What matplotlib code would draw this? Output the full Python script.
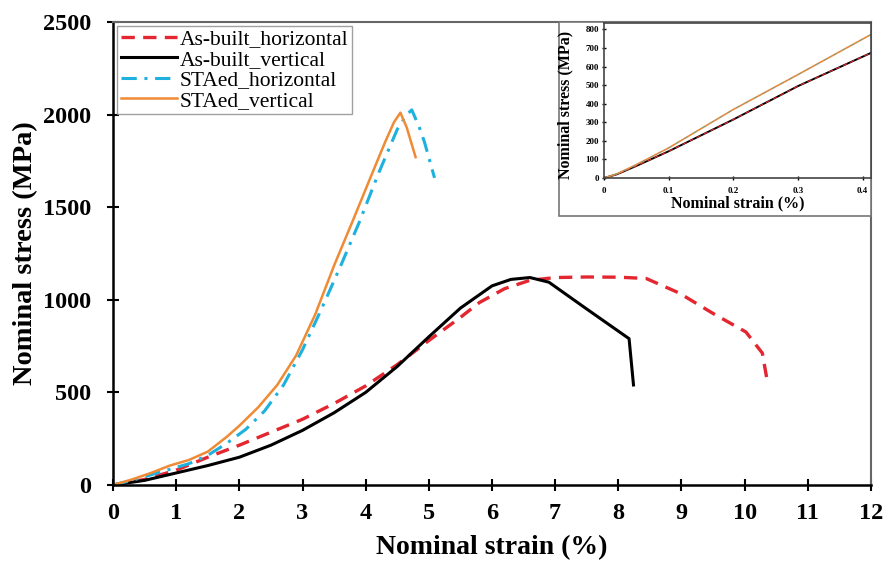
import matplotlib
matplotlib.use("Agg")
import matplotlib.pyplot as plt
from matplotlib.patches import Rectangle

plt.rcParams["font.family"] = ["Liberation Serif", "DejaVu Serif"]

# As-built_horizontal
ab_h_x = [0, 0.5, 1.0, 1.5, 2.0, 2.5, 3.0, 3.5, 4.0, 4.5, 5.0, 5.5, 5.8, 6.2, 6.6,
          7.0, 7.5, 8.0, 8.44, 8.96, 9.49, 10.02, 10.28, 10.36]
ab_h_y = [0, 30, 80, 150, 215, 285, 355, 440, 535, 650, 780, 905, 985, 1060, 1105,
          1120, 1123, 1122, 1115, 1037, 928, 826, 712, 556]

# As-built_vertical
ab_v_x = [0, 0.5, 1.0, 1.5, 2.0, 2.5, 3.0, 3.5, 4.0, 4.5, 5.0, 5.5, 6.0, 6.3, 6.6,
          6.9, 7.5, 8.17, 8.24]
ab_v_y = [0, 25, 65, 105, 150, 215, 295, 390, 500, 640, 800, 955, 1075, 1110, 1120,
          1095, 950, 790, 540]

# STAed_horizontal
sta_h_x = [0, 0.3, 0.6, 0.9, 1.2, 1.5, 1.8, 2.1, 2.4, 2.7, 3.0, 3.3, 3.6, 3.9, 4.2,
           4.5, 4.65, 4.73, 4.85, 4.93, 5.09]
sta_h_y = [0, 25, 55, 85, 115, 160, 225, 300, 400, 540, 730, 950, 1180, 1420, 1680,
           1920, 2000, 2025, 1930, 1852, 1658]

# STAed_vertical
sta_v_x = [0, 0.3, 0.6, 0.9, 1.0, 1.2, 1.5, 1.8, 2.0, 2.3, 2.6, 2.9, 3.2, 3.5, 3.8,
           4.1, 4.3, 4.45, 4.55, 4.65, 4.79]
sta_v_y = [0, 30, 65, 105, 115, 135, 180, 260, 320, 420, 540, 700, 920, 1185, 1430,
           1680, 1845, 1960, 2010, 1930, 1770]

# inset (elastic region)
ins_x = [0, 0.02, 0.05, 0.1, 0.2, 0.3, 0.413]
ins_low = [0, 20, 65, 144, 315, 495, 674]
ins_high = [0, 22, 72, 162, 369, 557, 773]

red = "#e3262f"
cyan = "#1eb1de"
orange = "#ef8a35"

fig = plt.figure(figsize=(8.83, 5.62), dpi=100)
ax = fig.add_axes([0.128, 0.137, 0.8584, 0.824])

ax.plot(ab_h_x, ab_h_y, color=red, lw=2.4, ls=(0, (4, 2.5)), label="As-built_horizontal")
ax.plot(ab_v_x, ab_v_y, color="black", lw=2.2, label="As-built_vertical")
ax.plot(sta_h_x, sta_h_y, color=cyan, lw=2.2, ls=(0, (5, 2.5, 1, 2.5)), label="STAed_horizontal")
ax.plot(sta_v_x, sta_v_y, color=orange, lw=1.8, label="STAed_vertical")

ax.set_xlim(0, 12)
ax.set_ylim(0, 2500)
ax.set_xticks(range(0, 13))
ax.set_yticks(range(0, 2501, 500))
ax.tick_params(direction="inout", length=8, width=1.5, labelsize=17.5)
ax.tick_params(axis="x", pad=9)
ax.tick_params(axis="y", pad=12)
for lab in ax.get_xticklabels() + ax.get_yticklabels():
    lab.set_fontweight("bold")
ax.set_xlabel("Nominal strain (%)", fontsize=20, fontweight="bold", labelpad=8)
ax.set_ylabel("Nominal stress (MPa)", fontsize=20.5, fontweight="bold", labelpad=3)
for s in ["left", "bottom"]:
    ax.spines[s].set_linewidth(1.8)
for s in ["top", "right"]:
    ax.spines[s].set_color("#666666")
    ax.spines[s].set_linewidth(1.5)

leg = ax.legend(loc="upper left", fontsize=15.5, frameon=True, fancybox=False,
                borderpad=0.15, labelspacing=0.02, handlelength=2.6, handletextpad=0.15,
                borderaxespad=0.2, edgecolor="#888888")
leg.get_frame().set_linewidth(1.0)

# inset frame box
fig.patches.append(Rectangle((559 / 883, 1 - 216 / 562), 312 / 883, 194 / 562,
                             transform=fig.transFigure, fill=True, facecolor="white",
                             edgecolor="#777777", lw=1.2, zorder=3))

axi = fig.add_axes([604 / 883, 1 - 178 / 562, 267 / 883, 155 / 562], zorder=4)
axi.plot(ins_x, ins_low, color="black", lw=1.4)
axi.plot(ins_x, ins_low, color=red, lw=0.8, ls=(0, (4, 3)))
axi.plot(ins_x, ins_high, color=orange, lw=1.2)
axi.plot(ins_x, ins_high, color=cyan, lw=0.6, ls=(0, (5, 3, 1, 3)), alpha=0.6)
axi.set_xlim(0, 0.413)
axi.set_ylim(0, 835)
axi.set_xticks([0, 0.1, 0.2, 0.3, 0.4])
axi.set_xticklabels(["0", "0.1", "0.2", "0.3", "0.4"])
axi.set_yticks(range(0, 801, 100))
axi.tick_params(direction="inout", length=3, width=1.0, labelsize=6.5, pad=2)
axi.tick_params(axis="x", pad=5)
for lab in axi.get_xticklabels() + axi.get_yticklabels():
    lab.set_fontweight("bold")
axi.set_xlabel("Nominal strain (%)", fontsize=11.5, fontweight="bold", labelpad=0)
axi.set_ylabel("Nominal stress (MPa)", fontsize=11.5, fontweight="bold")
axi.yaxis.set_label_coords(-0.115, 0.47)
for s in axi.spines.values():
    s.set_color("#444444")
    s.set_linewidth(1.2)

fig.savefig("out.png", dpi=100)
